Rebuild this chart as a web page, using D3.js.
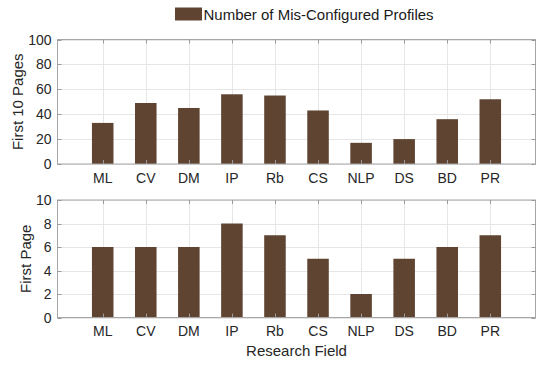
<!DOCTYPE html>
<html lang="en">
<head>
  <meta charset="UTF-8">
  <script src="https://d3js.org/d3.v7.min.js"></script>
  <title>Mis-Configured Profiles</title>
  <style>
    body { margin: 0; background: #fff; font-family: "Liberation Sans", Arial, sans-serif; }
    .grid line { stroke: #e6e6e6; stroke-width: 1px; }
    .tick-label { font-size: 14px; fill: #262626; }
    .axis-title { font-size: 15px; fill: #262626; }
    .legend-label { font-size: 15px; fill: #1a1a1a; }
  </style>
</head>
<body>
  <svg id="chart" width="550" height="365"></svg>

  <script>
    const fields = ["ML", "CV", "DM", "IP", "Rb", "CS", "NLP", "DS", "BD", "PR"];
    const firstTenPages = [33, 49, 45, 56, 55, 43, 17, 20, 36, 52];
    const firstPage = [6, 6, 6, 8, 7, 5, 2, 5, 6, 7];
    const topTicks = [0, 20, 40, 60, 80, 100];
    const bottomTicks = [0, 2, 4, 6, 8, 10];

    const barColor = "#5f4431";
    const boxColor = "#a6a6a6";
    const left = 57.5, right = 535.5;

    const svg = d3.select("#chart");

    // x positions: bars at 1..10, a little padding on each side
    const x = d3.scaleLinear().domain([-0.05, 11.05]).range([left, right]);
    const barW = x(1.5) - x(1);

    function panel(values, ticks, yMax, top, bottom, label, labelX) {
      const y = d3.scaleLinear().domain([0, yMax]).range([bottom, top]);
      const g = svg.append("g");

      // grid
      const grid = g.append("g").attr("class", "grid");
      grid.selectAll(".gy").data(ticks).enter().append("line")
        .attr("x1", left).attr("x2", right)
        .attr("y1", d => Math.round(y(d)) + 0.5).attr("y2", d => Math.round(y(d)) + 0.5);
      grid.selectAll(".gx").data(fields).enter().append("line")
        .attr("x1", (d, i) => Math.round(x(i + 1)) + 0.5).attr("x2", (d, i) => Math.round(x(i + 1)) + 0.5)
        .attr("y1", top).attr("y2", bottom);

      // bars
      g.selectAll(".bar").data(values).enter().append("rect")
        .attr("x", (d, i) => x(i + 1) - barW / 2)
        .attr("width", barW)
        .attr("y", d => y(d))
        .attr("height", d => y(0) - y(d))
        .attr("fill", barColor);

      // box
      g.append("rect")
        .attr("x", left).attr("y", top)
        .attr("width", right - left).attr("height", bottom - top)
        .attr("fill", "none").attr("stroke", boxColor).attr("stroke-width", 1);

      // inward ticks
      const tk = g.append("g").attr("stroke", "#9a9a9a").attr("stroke-width", 1);
      fields.forEach((f, i) => {
        const xx = Math.round(x(i + 1)) + 0.5;
        tk.append("line").attr("x1", xx).attr("x2", xx).attr("y1", bottom).attr("y2", bottom - 4);
        tk.append("line").attr("x1", xx).attr("x2", xx).attr("y1", top).attr("y2", top + 4);
      });
      ticks.forEach(t => {
        const yy = Math.round(y(t)) + 0.5;
        tk.append("line").attr("x1", left).attr("x2", left + 4).attr("y1", yy).attr("y2", yy);
        tk.append("line").attr("x1", right).attr("x2", right - 4).attr("y1", yy).attr("y2", yy);
      });

      // tick labels
      g.selectAll(".ylab").data(ticks).enter().append("text")
        .attr("class", "tick-label")
        .attr("x", left - 6).attr("y", d => y(d) + 5)
        .attr("text-anchor", "end")
        .text(d => d);
      g.selectAll(".xlab").data(fields).enter().append("text")
        .attr("class", "tick-label")
        .attr("x", (d, i) => x(i + 1)).attr("y", bottom + 18.5)
        .attr("text-anchor", "middle")
        .text(d => d);

      // y title
      g.append("text")
        .attr("class", "axis-title")
        .attr("transform", `translate(${labelX},${(top + bottom) / 2}) rotate(-90)`)
        .attr("text-anchor", "middle")
        .text(label);
    }

    panel(firstTenPages, topTicks, 100, 39.5, 164, "First 10 Pages", 23);
    panel(firstPage, bottomTicks, 10, 200, 317.5, "First Page", 31);

    svg.append("text")
      .attr("class", "axis-title")
      .attr("x", (left + right) / 2).attr("y", 355.5)
      .attr("text-anchor", "middle")
      .text("Research Field");

    // legend
    const lg = svg.append("g");
    lg.append("rect").attr("x", 175).attr("y", 7.5).attr("width", 27).attr("height", 13).attr("fill", barColor);
    lg.append("text").attr("class", "legend-label")
      .attr("x", 203.5).attr("y", 19.5)
      .text("Number of Mis-Configured Profiles");
  </script>
</body>
</html>
